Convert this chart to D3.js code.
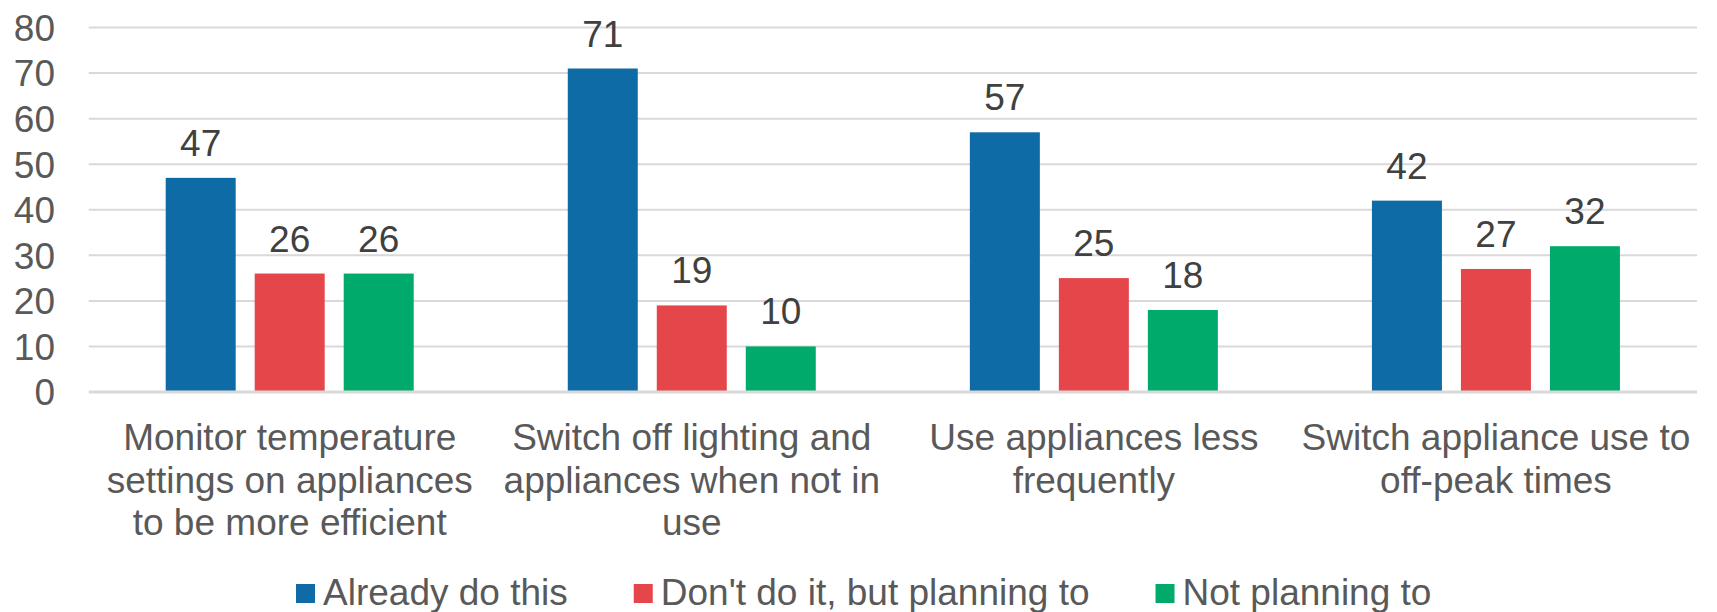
<!DOCTYPE html>
<html>
<head>
<meta charset="utf-8">
<script src="https://cdn.jsdelivr.net/npm/d3@7"></script>
<style>
  html, body { margin: 0; padding: 0; background: #fff; }
  svg { display: block; font-family: "Liberation Sans", Arial, sans-serif; }
</style>
</head>
<body>
<div id="chart"></div>
<script>
// data
var categories = [
    ["Monitor temperature", "settings on appliances", "to be more efficient"],
    ["Switch off lighting and", "appliances when not in", "use"],
    ["Use appliances less", "frequently"],
    ["Switch appliance use to", "off-peak times"]
];
var seriesNames = ["Already do this", "Don't do it, but planning to", "Not planning to"];
var alreadyDo = [47, 71, 57, 42];
var planning = [26, 19, 25, 27];
var notPlanning = [26, 10, 18, 32];
var yTicks = [0, 10, 20, 30, 40, 50, 60, 70, 80];

var colors = ["#0f6ba5", "#e5464a", "#00aa6a"];
var values = [alreadyDo, planning, notPlanning];

var width = 1717, height = 612;
var fontSize = 37;

var svg = d3.select("#chart").append("svg")
    .attr("width", width)
    .attr("height", height);

var x0 = d3.scaleBand()
    .domain(d3.range(categories.length))
    .range([88.7, 1697])
    .padding(0);

var x1 = d3.scaleBand()
    .domain(d3.range(seriesNames.length))
    .range([77, 325])
    .paddingInner(19 / 89)
    .paddingOuter(0);

var y = d3.scaleLinear()
    .domain([0, 80])
    .range([392, 27.5]);

// gridlines
svg.append("g").selectAll("line")
    .data(yTicks.filter(function(d) { return d > 0; }))
    .enter().append("line")
    .attr("x1", 88.7)
    .attr("x2", 1697)
    .attr("y1", function(d) { return y(d); })
    .attr("y2", function(d) { return y(d); })
    .attr("stroke", "#d9d9d9")
    .attr("stroke-width", 2);

// y tick labels
svg.append("g").selectAll("text")
    .data(yTicks)
    .enter().append("text")
    .attr("x", 55)
    .attr("y", function(d) { return y(d); })
    .attr("dy", "0.36em")
    .attr("text-anchor", "end")
    .attr("fill", "#595959")
    .attr("font-size", fontSize)
    .text(function(d) { return d; });

// bars
var groups = svg.append("g").selectAll("g")
    .data(categories)
    .enter().append("g")
    .attr("transform", function(d, i) { return "translate(" + x0(i) + ",0)"; });

groups.selectAll("rect")
    .data(function(d, i) { return values.map(function(v, s) { return { s: s, v: v[i] }; }); })
    .enter().append("rect")
    .attr("x", function(d) { return x1(d.s); })
    .attr("y", function(d) { return y(d.v); })
    .attr("width", x1.bandwidth())
    .attr("height", function(d) { return y(0) - y(d.v); })
    .attr("fill", function(d) { return colors[d.s]; });

groups.selectAll("text.val")
    .data(function(d, i) { return values.map(function(v, s) { return { s: s, v: v[i] }; }); })
    .enter().append("text")
    .attr("class", "val")
    .attr("x", function(d) { return x1(d.s) + x1.bandwidth() / 2; })
    .attr("y", function(d) { return y(d.v) - 22; })
    .attr("text-anchor", "middle")
    .attr("fill", "#404040")
    .attr("font-size", fontSize)
    .text(function(d) { return d.v; });

// x axis line
svg.append("line")
    .attr("x1", 88.7)
    .attr("x2", 1697)
    .attr("y1", y(0))
    .attr("y2", y(0))
    .attr("stroke", "#d9d9d9")
    .attr("stroke-width", 3);

// category labels
var catLabels = svg.append("g").selectAll("text")
    .data(categories)
    .enter().append("text")
    .attr("x", function(d, i) { return x0(i) + x0.bandwidth() / 2; })
    .attr("y", 450)
    .attr("text-anchor", "middle")
    .attr("fill", "#595959")
    .attr("font-size", fontSize);

catLabels.selectAll("tspan")
    .data(function(d) { return d; })
    .enter().append("tspan")
    .attr("x", function() { return d3.select(this.parentNode).attr("x"); })
    .attr("dy", function(d, i) { return i === 0 ? 0 : 42.5; })
    .text(function(d) { return d; });

// legend
var legend = svg.append("g");
var lx = 296;
seriesNames.forEach(function(name, i) {
    legend.append("rect")
        .attr("x", lx)
        .attr("y", 584)
        .attr("width", 19)
        .attr("height", 19)
        .attr("fill", colors[i]);
    var t = legend.append("text")
        .attr("x", lx + 27)
        .attr("y", 605)
        .attr("fill", "#595959")
        .attr("font-size", fontSize)
        .text(name);
    lx = lx + 27 + t.node().getComputedTextLength() + 66;
});
</script>
</body>
</html>
